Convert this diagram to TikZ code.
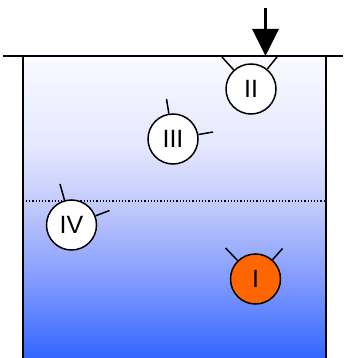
\documentclass[tikz,border=0pt]{standalone}
\usepackage{fontspec}
\setmainfont{Liberation Sans}
\usetikzlibrary{arrows.meta}
\definecolor{wtop}{RGB}{250,250,255}
\definecolor{wq}{RGB}{228,231,254}
\definecolor{wmid}{RGB}{192,201,251}
\definecolor{wlow}{RGB}{128,153,253}
\definecolor{wbot}{RGB}{51,102,255}
\definecolor{orng}{RGB}{255,102,0}
\pgfdeclareverticalshading{water}{100bp}{color(0bp)=(wbot); color(25bp)=(wbot); color(37.5bp)=(wlow); color(50bp)=(wmid); color(60bp)=(wq); color(75bp)=(wtop); color(100bp)=(wtop)}
\tikzset{
  mol/.style={circle, draw=black, line width=1.5pt, fill=white, minimum size=50pt, inner sep=0pt, font=\fontsize{25}{25}\selectfont},
  leg/.style={line width=1.5pt},
  wall/.style={line width=1.8pt},
}
\begin{document}
\begin{tikzpicture}[x=1pt,y=-1pt]
\useasboundingbox (0,0) rectangle (345,358);
% water
\path[shading=water] (23,56) rectangle (326,358);
% container
\coordinate (lineL) at (3,56);
\coordinate (lineR) at (343,56);
\coordinate (wallLb) at (23,358);
\coordinate (wallLt) at (23,56);
\coordinate (wallRb) at (326,358);
\coordinate (wallRt) at (326,56);
\draw[wall] (wallLb) -- (wallLt);
\draw[wall] (wallRb) -- (wallRt);
\draw[line width=1.4pt] (lineL) -- (lineR);
% dotted interface
\coordinate (dotL) at (26,201);
\coordinate (dotR) at (325,201);
\draw[dotted, line width=1.2pt] (dotL) -- (dotR);
% arrow
\coordinate (arrtop) at (265.5,8);
\coordinate (arrtip) at (265.5,56);
\draw[line width=3pt, -{Triangle[width=26pt,length=27pt]}] (arrtop) -- (arrtip);
% molecules
\node[mol] (II) at (251,89) {II};
\node[mol] (III) at (173,139) {III};
\node[mol] (IV) at (71.5,225) {IV};
\node[mol, fill=orng] (I) at (255.5,279) {I};
% legs
\coordinate (IIa) at (222,57);
\coordinate (IIb) at (277,57);
\coordinate (IIIa) at (166.5,99);
\coordinate (IIIb) at (213,132);
\coordinate (IVa) at (60,184);
\coordinate (IVb) at (109.5,210.5);
\coordinate (Ia) at (225.5,248);
\coordinate (Ib) at (282.5,248.5);
\draw[leg] (IIa) -- (II);
\draw[leg] (IIb) -- (II);
\draw[leg] (IIIa) -- (III);
\draw[leg] (IIIb) -- (III);
\draw[leg] (IVa) -- (IV);
\draw[leg] (IVb) -- (IV);
\draw[leg] (Ia) -- (I);
\draw[leg] (Ib) -- (I);
\end{tikzpicture}
\end{document}
